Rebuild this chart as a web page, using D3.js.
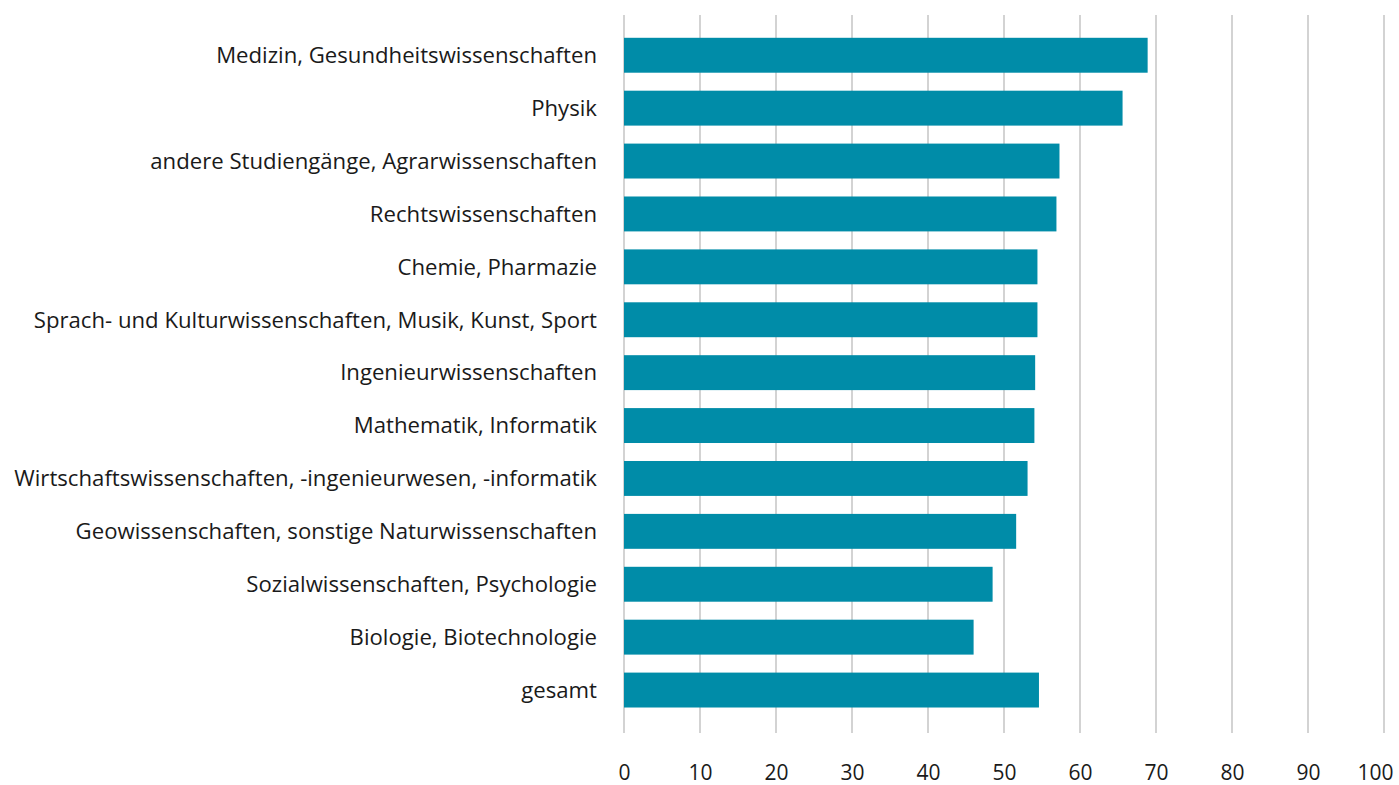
<!DOCTYPE html>
<html>
<head>
<meta charset="utf-8">
<script src="https://cdn.jsdelivr.net/npm/d3@7"></script>
<style>
  body { margin: 0; background: #fff; }
  text { font-family: "Open Sans", Lato, sans-serif; fill: #1a1a1a; }
</style>
</head>
<body>
<div class="chart"></div>
<script>
"use strict";

// categories, top to bottom
let categories = [
    "Medizin, Gesundheitswissenschaften",
    "Physik",
    "andere Studiengänge, Agrarwissenschaften",
    "Rechtswissenschaften",
    "Chemie, Pharmazie",
    "Sprach- und Kulturwissenschaften, Musik, Kunst, Sport",
    "Ingenieurwissenschaften",
    "Mathematik, Informatik",
    "Wirtschaftswissenschaften, -ingenieurwesen, -informatik",
    "Geowissenschaften, sonstige Naturwissenschaften",
    "Sozialwissenschaften, Psychologie",
    "Biologie, Biotechnologie",
    "gesamt"
];
let values = [68.9, 65.6, 57.3, 56.9, 54.4, 54.4, 54.1, 54.0, 53.1, 51.6, 48.5, 46.0, 54.6];
let x_ticks = [0, 10, 20, 30, 40, 50, 60, 70, 80, 90, 100];

// Plot Appearance Settings
let width = 1399;
let height = 785;
let plot_left = 624;
let plot_right = 1384;
let grid_top = 15;
let grid_bottom = 733;
let label_right = 597;
let label_left = 14;   // where the longest label starts in the reference
let bar_color = "#008ca8";

let svg = d3.select(".chart")
    .append("svg")
    .attr("width", width)
    .attr("height", height);

let x_scale = d3.scaleLinear()
    .domain([0, 100])
    .range([plot_left, plot_right]);

let y_scale = d3.scaleBand()
    .domain(categories)
    .range([28.8, 716.5])
    .paddingInner(0.34)
    .paddingOuter(0.17);

// gridlines
svg.append("g")
    .selectAll("line")
    .data(x_ticks)
    .enter()
    .append("line")
    .attr("x1", d => x_scale(d))
    .attr("x2", d => x_scale(d))
    .attr("y1", grid_top)
    .attr("y2", grid_bottom)
    .attr("stroke", "#c4c4c4")
    .attr("stroke-width", 1.5);

// bars
svg.append("g")
    .selectAll("rect")
    .data(values)
    .enter()
    .append("rect")
    .attr("x", x_scale(0))
    .attr("y", (d, i) => y_scale(categories[i]))
    .attr("width", d => x_scale(d) - x_scale(0))
    .attr("height", y_scale.bandwidth())
    .attr("fill", bar_color);

// category labels
let labels = svg.append("g")
    .selectAll("text")
    .data(categories)
    .enter()
    .append("text")
    .attr("x", label_right)
    .attr("y", d => y_scale(d) + y_scale.bandwidth() / 2)
    .attr("dy", "0.35em")
    .attr("text-anchor", "end")
    .style("font-size", "20px")
    .text(d => d);

// size the labels so the longest one spans the same width as in the reference
let longest = d3.max(labels.nodes(), n => n.getComputedTextLength());
let label_size = 20 * (label_right - label_left) / longest;
labels.style("font-size", label_size + "px");

// x tick labels
let x_axis = svg.append("g")
    .attr("transform", "translate(0,773)")
    .call(d3.axisBottom(x_scale).tickValues(x_ticks).tickSize(0).tickPadding(0));
x_axis.select(".domain").remove();
x_axis.selectAll("text")
    .attr("y", 0)
    .attr("dy", "0.35em")
    .style("font-size", "21px")
    .style("font-family", "'Open Sans', Lato, sans-serif")
    .attr("fill", "#1a1a1a");
// last label is pushed inside the right edge, like the reference
x_axis.selectAll(".tick")
    .filter(d => d === 100)
    .select("text")
    .attr("text-anchor", "end")
    .attr("x", width - 6 - x_scale(100));
</script>
</body>
</html>
